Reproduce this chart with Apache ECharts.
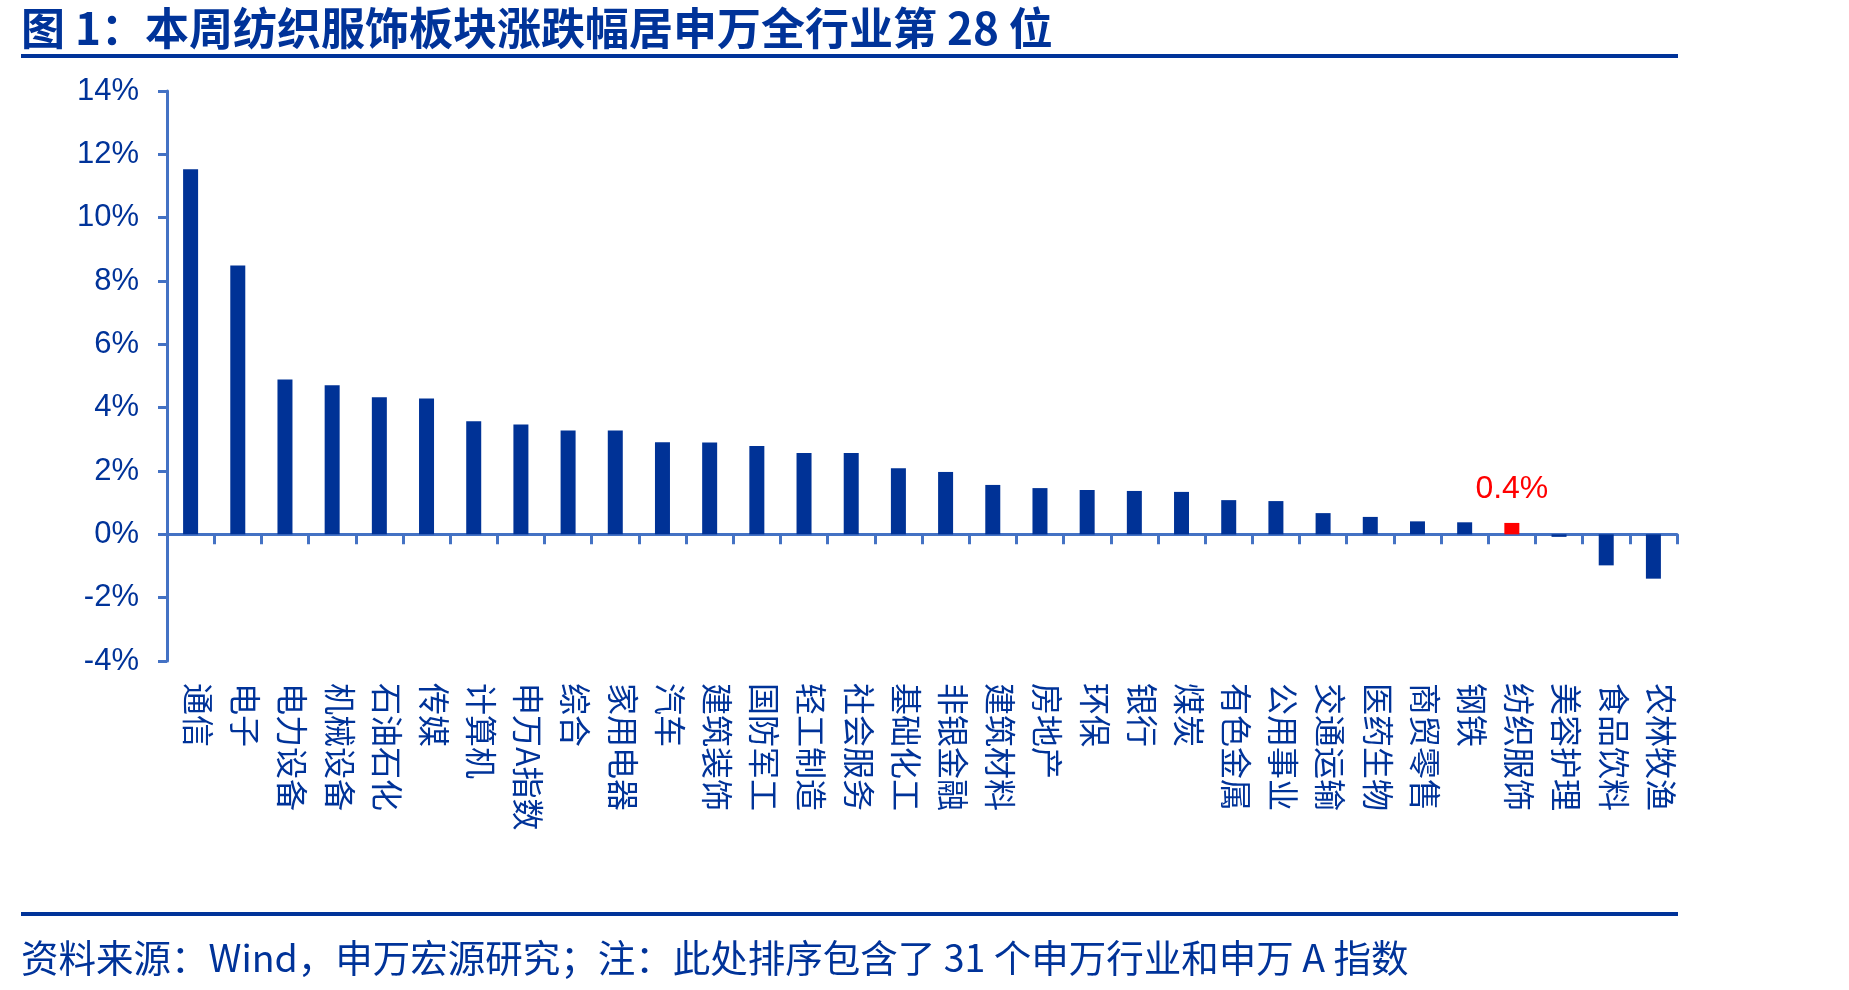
<!DOCTYPE html>
<html>
<head>
<meta charset="utf-8">
<script src="https://cdn.jsdelivr.net/npm/echarts@6/dist/echarts.min.js"></script>
<style>html,body{margin:0;padding:0;background:#fff;}#c{width:1849px;height:990px;}</style>
</head>
<body>
<div id="c"></div>
<script>
const titleText = '图 1：本周纺织服饰板块涨跌幅居申万全行业第 28 位';
const sourceText = '资料来源：Wind，申万宏源研究；注：此处排序包含了 31 个申万行业和申万 A 指数';
const categories = ['通信','电子','电力设备','机械设备','石油石化','传媒','计算机','申万A指数','综合','家用电器','汽车','建筑装饰','国防军工','轻工制造','社会服务','基础化工','非银金融','建筑材料','房地产','环保','银行','煤炭','有色金属','公用事业','交通运输','医药生物','商贸零售','钢铁','纺织服饰','美容护理','食品饮料','农林牧渔'];
const values = [11.53,8.49,4.89,4.71,4.33,4.29,3.57,3.47,3.28,3.28,2.91,2.90,2.79,2.57,2.57,2.09,1.97,1.56,1.46,1.40,1.37,1.34,1.08,1.05,0.67,0.55,0.41,0.38,0.36,-0.08,-0.98,-1.40];
const highlight = '纺织服饰';
const yTicks = [-4,-2,0,2,4,6,8,10,12,14];

const BLUE = '#003296', RED = '#FF0000', AXIS = '#4472C4', TEXT = '#003399';
const chart = echarts.init(document.getElementById('c'));
chart.setOption({
  animation: false,
  backgroundColor: '#fff',
  grid: { left: 167, right: 172, top: 91, bottom: 329, containLabel: false },
  xAxis: {
    type: 'category', data: categories,
    axisLine: { show: true, onZero: true, lineStyle: { color: AXIS, width: 3 } },
    axisTick: { show: true, length: 10, alignWithLabel: false, lineStyle: { color: AXIS, width: 3 } },
    axisLabel: { interval: 0, rotate: -90, margin: 22, color: TEXT, fontSize: 32,
      fontFamily: '"Noto Sans CJK SC", sans-serif', verticalAlign: 'bottom', lineHeight: 15 }
  },
  yAxis: {
    type: 'value', min: yTicks[0], max: yTicks[yTicks.length - 1], interval: 2,
    splitLine: { show: false },
    axisLine: { show: true, lineStyle: { color: AXIS, width: 3 } },
    axisTick: { show: true, length: 9, lineStyle: { color: AXIS, width: 3 } },
    axisLabel: { margin: 28, color: TEXT, fontSize: 31, fontFamily: '"Liberation Sans", Arial, sans-serif',
      formatter: v => v + '%' }
  },
  series: [{
    type: 'bar', barWidth: 15,
    data: values.map((v, i) => {
      const hi = categories[i] === highlight;
      return {
        value: v,
        itemStyle: { color: hi ? RED : BLUE },
        label: hi ? { show: true, position: 'top', distance: 18, color: RED, fontSize: 32,
          fontFamily: '"Liberation Sans", Arial, sans-serif',
          formatter: p => p.value.toFixed(1) + '%' } : { show: false }
      };
    })
  }],
  graphic: [
    { type: 'text', left: 21, top: 6, style: { text: titleText, fill: TEXT,
      font: 'bold 44px "Noto Sans CJK SC", sans-serif' } },
    { type: 'rect', shape: { x: 21, y: 54, width: 1657, height: 4 }, style: { fill: '#003399' } },
    { type: 'rect', shape: { x: 21, y: 912, width: 1657, height: 4 }, style: { fill: '#003399' } },
    { type: 'text', left: 21, top: 939, style: { text: sourceText, fill: TEXT,
      font: '37.5px "Noto Sans CJK SC", sans-serif' } }
  ]
});
</script>
</body>
</html>
